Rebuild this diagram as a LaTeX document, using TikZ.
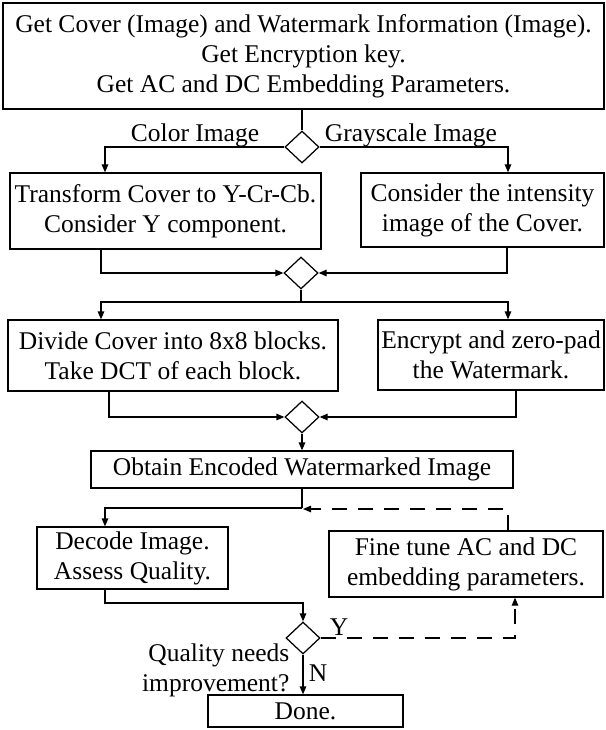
\documentclass[tikz,border=0pt]{standalone}
\usepackage{fontspec}
\setmainfont{Liberation Serif}
\usetikzlibrary{arrows.meta,shapes.geometric}
\begin{document}
\begin{tikzpicture}[x=1pt,y=-1pt,
  line width=1.25pt,
  font=\fontsize{25.5}{30}\selectfont,
  box/.style={draw,rectangle,inner sep=0pt,align=center},
  dec/.style={draw,diamond,inner sep=0pt,minimum width=34pt,minimum height=32pt},
  lbl/.style={inner sep=0pt},
  arr/.style={-{Triangle[length=8pt,width=6.5pt]}},
  dashline/.style={dash pattern=on 15pt off 11pt}]
\useasboundingbox (0,0) rectangle (605,730);

% process boxes
\node[box,minimum width=601pt,minimum height=106pt] (top) at (303.5,56)
  {Get Cover (Image) and Watermark Information (Image).\\Get Encryption key.\\Get AC and DC Embedding Parameters.};
\node[box,minimum width=311pt,minimum height=76pt] (b2L) at (165.5,211)
  {Transform Cover to Y-Cr-Cb.\\Consider Y component.};
\node[box,minimum width=243pt,minimum height=74pt] (b2R) at (482.5,210)
  {Consider the intensity\\image of the Cover.};
\node[box,minimum width=330pt,minimum height=71pt] (b3L) at (173,355.5)
  {Divide Cover into 8x8 blocks.\\Take DCT of each block.};
\node[box,minimum width=226pt,minimum height=70pt] (b3R) at (491,355)
  {Encrypt and zero-pad\\the Watermark.};
\node[box,minimum width=422pt,minimum height=37pt] (b4) at (302,469.5)
  {Obtain Encoded Watermarked Image};
\node[box,minimum width=191pt,minimum height=62pt] (b5) at (132.5,558)
  {Decode Image.\\Assess Quality.};
\node[box,minimum width=274pt,minimum height=66pt] (b6) at (466,564)
  {Fine tune AC and DC\\embedding parameters.};
\node[box,minimum width=195pt,minimum height=32pt] (done) at (305.5,711)
  {Done.};

% decision diamonds
\node[dec] (d1) at (302,147) {};
\node[dec] (d2) at (301,273) {};
\node[dec] (d3) at (302,417) {};
\node[dec] (d4) at (303,638) {};

% junction points
\coordinate (j2) at (301,302);
\coordinate (j4) at (302,508);
\coordinate (j5) at (303,603);

% labels
\node[lbl] (lc) at (195,135) {Color Image};
\node[lbl] (lg) at (411,135) {Grayscale Image};
\node[lbl] (ly) at (339,627) {Y};
\node[lbl] (ln) at (318,673) {N};
\node[lbl,align=right,anchor=east] (lq) at (290,670) {Quality needs\\improvement?};

% connectors
\draw (top.south -| d1) -- (d1.north);
\draw[arr] (d1.west) -| ([xshift=-60.5pt]b2L.north);
\draw[arr] (d1.east) -| ([xshift=25.5pt]b2R.north);

\draw[arr] ([xshift=-64.5pt]b2L.south) |- (d2.west);
\draw[arr] ([xshift=24.5pt]b2R.south) |- (d2.east);
\draw (d2.south) -- (j2);
\draw[arr] (j2) -| ([xshift=-72pt]b3L.north);
\draw[arr] (j2) -| ([xshift=17pt]b3R.north);

\draw[arr] ([xshift=-64pt]b3L.south) |- (d3.west);
\draw[arr] ([xshift=25pt]b3R.south) |- (d3.east);
\draw[arr] (d3.south) -- (d3.south |- b4.north);

\draw (b4.south -| j4) -- (j4);
\draw[arr] (j4) -| ([xshift=-27.5pt]b5.north);
\draw[arr,dashline] ([xshift=42pt]b6.north) |- ([xshift=1pt,yshift=-1pt]j4);

\draw[arr] ([xshift=-27.5pt]b5.south) |- (j5) -- (d4.north);
\draw[arr,dashline] (d4.east) -| ([xshift=49pt]b6.south);
\draw[arr] (d4.south) -- (d4.south |- done.north);
\end{tikzpicture}
\end{document}
